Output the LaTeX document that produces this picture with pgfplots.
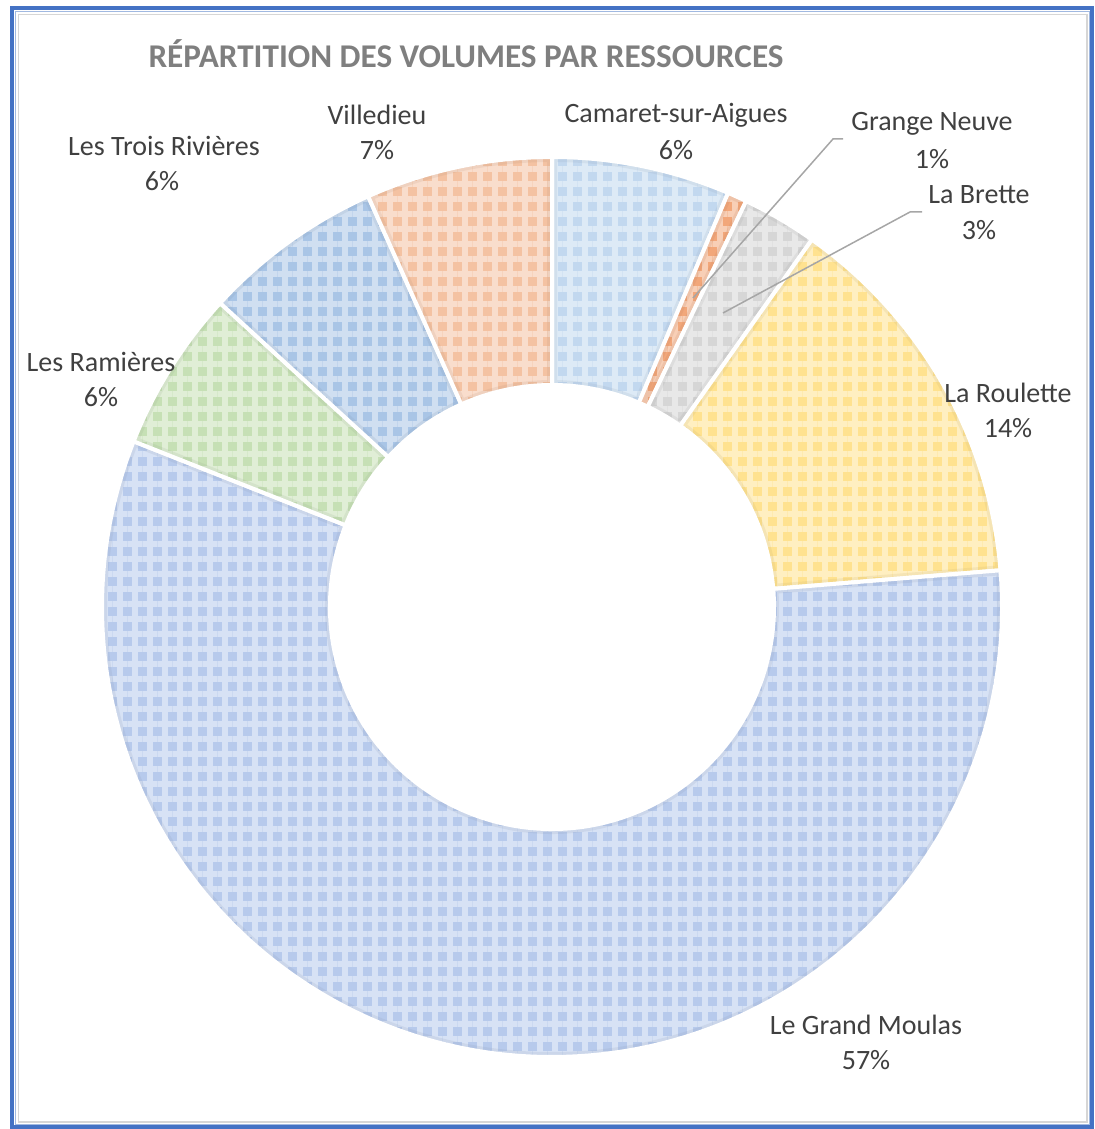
\documentclass[border=0pt]{standalone}
\usepackage{pgfplots}
\pgfplotsset{compat=1.18}
\usepackage{pgfplotstable}
\usepackage{fontspec}
\setmainfont{Carlito}
\usetikzlibrary{patterns.meta}

\definecolor{cCamaret}{HTML}{C2D8EF}
\definecolor{cGrange}{HTML}{F2A77A}
\definecolor{cBrette}{HTML}{D6D6D6}
\definecolor{cRoulette}{HTML}{FFE28F}
\definecolor{cMoulas}{HTML}{B7CAEC}
\definecolor{cRamieres}{HTML}{C6E0B5}
\definecolor{cTrois}{HTML}{A9C5E6}
\definecolor{cVilledieu}{HTML}{F4C2A2}
\definecolor{txt}{HTML}{404040}
\definecolor{titre}{HTML}{7F7F7F}
\definecolor{leader}{HTML}{A6A6A6}
\definecolor{cadre}{HTML}{4472C4}

\tikzset{lab/.style={text=txt, font=\fontsize{14}{17}\selectfont}}

% volumes in percent, clockwise from 12 o'clock
\pgfplotstableread[col sep=comma]{
ressource,volume,couleur
Camaret-sur-Aigues,6.4,cCamaret
Grange Neuve,0.7,cGrange
La Brette,2.7,cBrette
La Roulette,13.9,cRoulette
Le Grand Moulas,57.3,cMoulas
Les Ramières,5.8,cRamieres
Les Trois Rivières,6.5,cTrois
Villedieu,6.7,cVilledieu
}\volumes

\begin{document}
\begin{tikzpicture}
\begin{axis}[
    x=0.5pt, y=0.5pt,
    xmin=0, xmax=1094, ymin=0, ymax=1129,
    hide axis, clip=false,
]
% picture area and frame
\path (axis cs:0,0) rectangle (axis cs:1094,1129);
\draw[cadre, line width=1.75pt] (axis cs:12,1121) rectangle (axis cs:1092.2,1.8);
\draw[cadre!50, line width=0.6pt] (axis cs:15.5,1117.5) rectangle (axis cs:1089.5,4.5);
\draw[black!16, line width=0.9pt] (axis cs:18.5,1114.5) rectangle (axis cs:1087,7);

% donut slices
\pgfplotstablegetrowsof{\volumes}
\pgfmathtruncatemacro\N{\pgfplotsretval-1}
\def\cum{0}
\pgfplotsforeachungrouped \i in {0,...,\N}{
    \pgfplotstablegetelem{\i}{volume}\of\volumes \let\v\pgfplotsretval
    \pgfplotstablegetelem{\i}{couleur}\of\volumes \let\c\pgfplotsretval
    \pgfmathsetmacro\aone{90-3.6*\cum}
    \pgfmathsetmacro\atwo{90-3.6*(\cum+\v)}
    \pgfmathsetmacro\aback{\atwo+180}
    \edef\sect{(axis cs:552,522) ++(\aone:225pt)
        arc[start angle=\aone, end angle=\atwo, radius=225pt]
        -- ++(\aback:114pt)
        arc[start angle=\atwo, end angle=\aone, radius=111pt] -- cycle}
    \edef\doit{%
        \noexpand\fill[\c] \sect;
        \noexpand\fill[pattern={Hatch[angle=0,distance=7.5pt,line width=3.4pt]},
            pattern color=\c!55!white] \sect;
        \noexpand\begin{scope}
        \noexpand\clip \sect;
        \noexpand\draw[\c!75!black, line width=5pt, draw opacity=0.15] \sect;
        \noexpand\end{scope}
        \noexpand\draw[white, line width=2pt, line join=round] \sect;
    }
    \doit
    \pgfmathsetmacro\cum{\cum+\v}
}

% leader lines
\draw[leader, line width=0.75pt] (axis cs:693,831) -- (axis cs:833,990) -- (axis cs:843,990);
\draw[leader, line width=0.75pt] (axis cs:723,816) -- (axis cs:910,917) -- (axis cs:922,917);

% title
\node[text=titre, font=\fontsize{16.6}{19}\selectfont\bfseries] at (axis cs:466,1075) {RÉPARTITION DES VOLUMES PAR RESSOURCES};

% labels
\node[lab] at (axis cs:377,1014) {Villedieu};
\node[lab] at (axis cs:377,979) {7\%};
\node[lab] at (axis cs:164,983) {Les Trois Rivières};
\node[lab] at (axis cs:162,948) {6\%};
\node[lab] at (axis cs:676,1014) {Camaret-sur-Aigues};
\node[lab] at (axis cs:676,979) {6\%};
\node[lab] at (axis cs:932,1005) {Grange Neuve};
\node[lab] at (axis cs:932,970) {1\%};
\node[lab] at (axis cs:979,934) {La Brette};
\node[lab] at (axis cs:979,899) {3\%};
\node[lab] at (axis cs:101,767) {Les Ramières};
\node[lab] at (axis cs:101,732) {6\%};
\node[lab] at (axis cs:1008,736) {La Roulette};
\node[lab] at (axis cs:1008,701) {14\%};
\node[lab] at (axis cs:866,104) {Le Grand Moulas};
\node[lab] at (axis cs:866,69) {57\%};
\end{axis}
\end{tikzpicture}
\end{document}
